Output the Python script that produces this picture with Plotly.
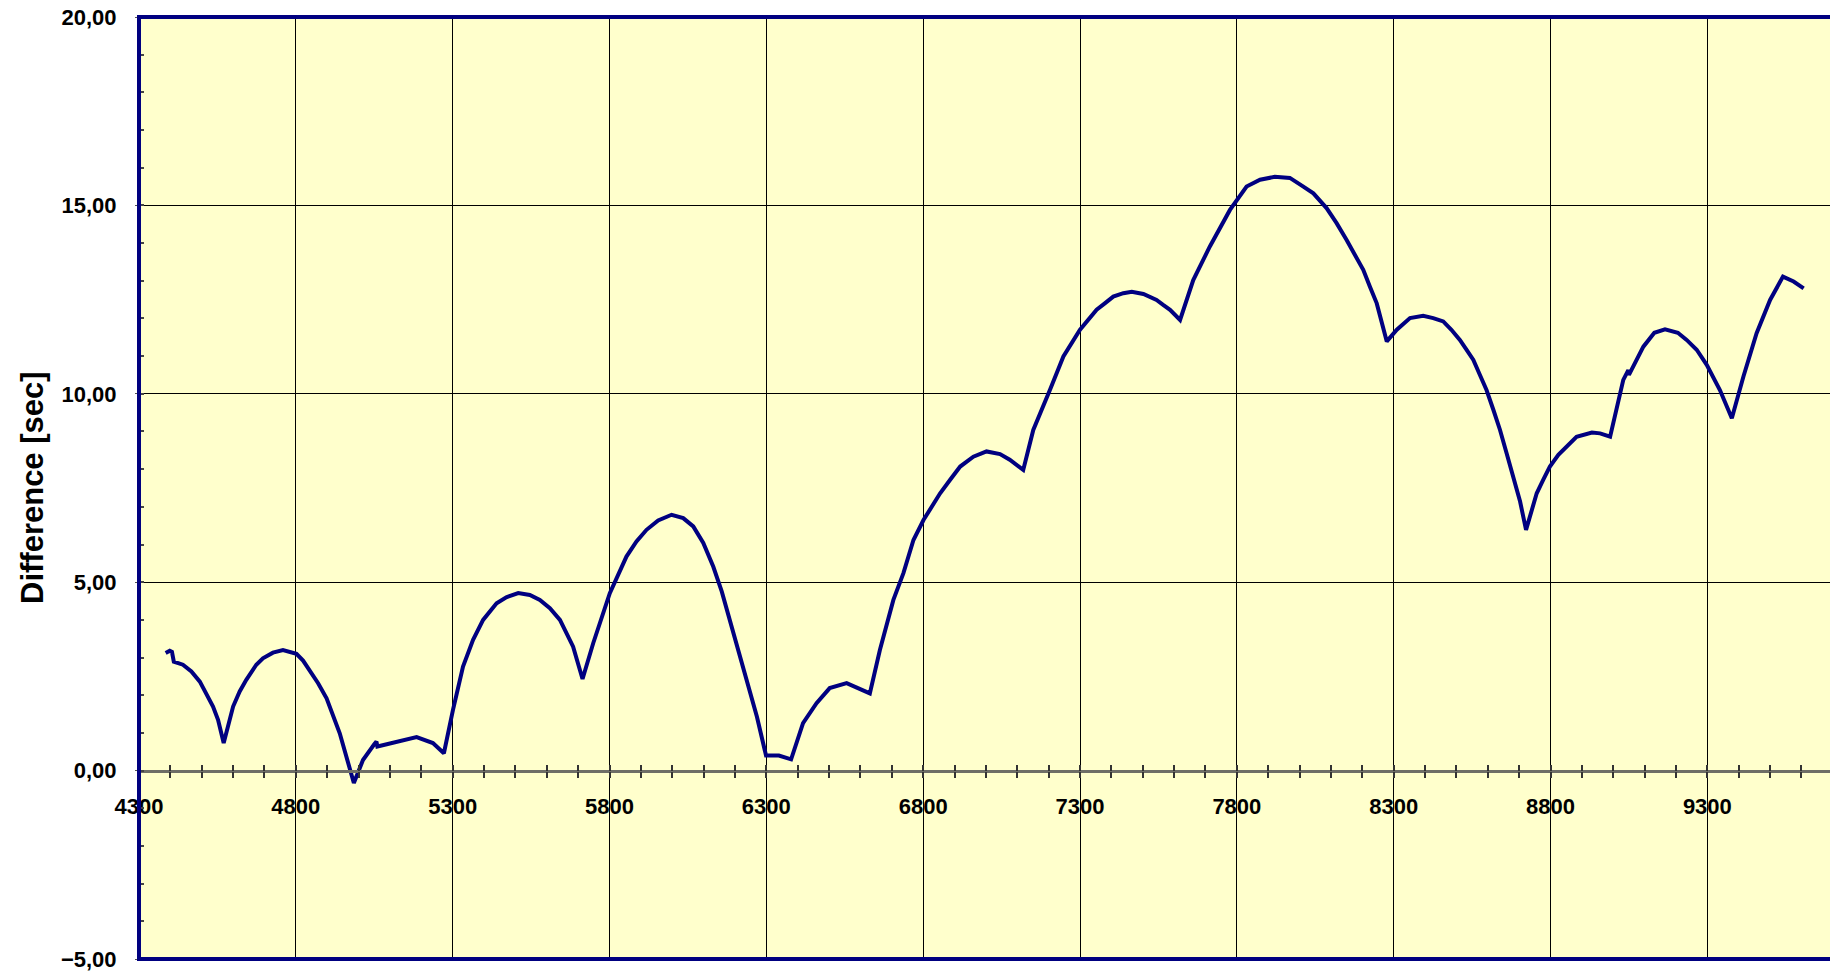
import plotly.graph_objects as go

# Data
x_values = [4385, 4398, 4405, 4411, 4440, 4467, 4494, 4515, 4536, 4552, 4570, 4600, 4621,
            4642, 4674, 4695, 4727, 4759, 4780, 4802, 4823, 4844, 4871, 4898, 4919, 4940,
            4985, 5014, 5050, 5057, 5060, 5131, 5185, 5237, 5272, 5301, 5333, 5365, 5397,
            5440, 5471, 5509, 5546, 5578, 5610, 5642, 5684, 5714, 5748, 5801, 5854, 5886,
            5918, 5955, 5998, 6035, 6067, 6099, 6131, 6158, 6184, 6211, 6237, 6270, 6299,
            6340, 6379, 6417, 6460, 6502, 6556, 6630, 6662, 6705, 6737, 6769, 6801, 6854,
            6886, 6918, 6960, 7002, 7045, 7076, 7119, 7151, 7204, 7247, 7300, 7326, 7353,
            7379, 7406, 7438, 7465, 7502, 7544, 7565, 7587, 7619, 7661, 7714, 7735, 7778,
            7831, 7874, 7921, 7969, 8012, 8044, 8086, 8118, 8150, 8177, 8203, 8224, 8246,
            8278, 8310, 8352, 8394, 8426, 8458, 8484, 8511, 8532, 8554, 8575, 8596, 8618,
            8639, 8660, 8681, 8703, 8722, 8756, 8777, 8798, 8825, 8852, 8883, 8932, 8958,
            8990, 9011, 9032, 9048, 9050, 9096, 9131, 9165, 9206, 9234, 9266, 9298, 9340,
            9378, 9415, 9457, 9500, 9541, 9575, 9607]
y_values = [3.12, 3.18, 3.15, 2.89, 2.81, 2.63, 2.36, 2.05, 1.70, 1.35, 0.73, 1.70, 2.10,
            2.41, 2.81, 2.98, 3.13, 3.20, 3.16, 3.10, 2.92, 2.67, 2.32, 1.92, 1.48, 0.99,
            -0.33, 0.28, 0.70, 0.77, 0.64, 0.77, 0.89, 0.73, 0.46, 1.61, 2.76, 3.47, 4.00,
            4.44, 4.60, 4.71, 4.66, 4.53, 4.31, 4.00, 3.29, 2.43, 3.38, 4.71, 5.68, 6.08,
            6.39, 6.64, 6.79, 6.70, 6.48, 6.04, 5.41, 4.75, 4.00, 3.20, 2.41, 1.43, 0.40,
            0.40, 0.30, 1.26, 1.79, 2.19, 2.32, 2.05, 3.20, 4.53, 5.24, 6.12, 6.65, 7.36,
            7.72, 8.07, 8.33, 8.47, 8.40, 8.25, 7.98, 9.04, 10.10, 10.99, 11.70, 11.96, 12.23,
            12.40, 12.58, 12.67, 12.71, 12.65, 12.49, 12.36, 12.23, 11.96, 13.02, 13.91, 14.22, 14.88,
            15.50, 15.68, 15.76, 15.73, 15.50, 15.32, 14.93, 14.53, 14.08, 13.69, 13.29, 12.85, 12.40,
            11.39, 11.70, 12.01, 12.07, 12.01, 11.92, 11.70, 11.43, 11.17, 10.90, 10.50, 10.10, 9.57,
            9.04, 8.42, 7.80, 7.14, 6.39, 7.36, 7.72, 8.07, 8.38, 8.60, 8.86, 8.97, 8.95,
            8.86, 9.66, 10.37, 10.63, 10.50, 11.25, 11.62, 11.71, 11.62, 11.43, 11.17, 10.77, 10.10,
            9.35, 10.46, 11.61, 12.49, 13.11, 12.98, 12.80]

y_title = "Difference [sec]"
x_range = [4300, 9691]
y_range = [-5, 20]

NAVY = "#000080"
FONT = "Liberation Sans, Arial, sans-serif"

fig = go.Figure()
fig.add_trace(go.Scatter(x=x_values, y=y_values, mode="lines",
                         line=dict(color=NAVY, width=4), showlegend=False,
                         hoverinfo="skip"))
# helper (empty) trace so the second x axis (inside crossing ticks) is drawn
fig.add_trace(go.Scatter(x=[], y=[], xaxis="x2", yaxis="y", showlegend=False))

zero_pos = (0 - y_range[0]) / (y_range[1] - y_range[0])

fig.update_layout(
    width=1830, height=971,
    margin=dict(l=139, r=0, t=17, b=12, autoexpand=False),
    paper_bgcolor="white",
    plot_bgcolor="#FFFFCC",
    separators=",.",
    font=dict(family=FONT, size=22, color="black"),
    xaxis=dict(
        range=x_range, dtick=500, tick0=4300, tickformat="d",
        anchor="free", position=zero_pos, automargin=False,
        showgrid=True, gridcolor="black", gridwidth=1,
        showline=True, linecolor="#6e6e66", linewidth=2.5,
        zeroline=False,
        ticks="outside", ticklen=6, tickcolor="#333333", tickwidth=1.5,
        ticklabelstandoff=9,
        minor=dict(dtick=100, ticks="outside", ticklen=6, tickcolor="#333333",
                   tickwidth=1.5, showgrid=False),
        tickfont=dict(family=FONT, size=22, color="black", weight="bold"),
    ),
    xaxis2=dict(
        matches="x", overlaying="x", anchor="free", position=zero_pos, automargin=False,
        showgrid=False, showline=False, zeroline=False, showticklabels=False,
        ticks="inside", ticklen=6, tickcolor="#333333", tickwidth=1.5,
        dtick=500, tick0=4300,
        minor=dict(dtick=100, ticks="inside", ticklen=6, tickcolor="#333333",
                   tickwidth=1.5, showgrid=False),
    ),
    yaxis=dict(
        range=y_range, dtick=5, tickformat=".2f", automargin=False,
        showgrid=True, gridcolor="black", gridwidth=1,
        zeroline=False, showline=False,
        ticks="outside", ticklen=3, tickcolor="#555555",
        ticklabelstandoff=14, ticklabeloverflow="allow",
        minor=dict(dtick=1, ticks="inside", ticklen=5, tickcolor="#444444",
                   tickwidth=1.5, showgrid=False),
        tickfont=dict(family=FONT, size=22, color="black", weight="bold"),
    ),
    shapes=[dict(type="rect", xref="paper", yref="paper", x0=0, x1=1.2, y0=0, y1=1,
                 line=dict(color=NAVY, width=4), layer="above")],
    annotations=[dict(text=y_title, xref="paper", yref="paper", x=0, y=0.5,
                      xanchor="center", yanchor="middle", xshift=-107, textangle=-90,
                      showarrow=False,
                      font=dict(family=FONT, size=31, color="black", weight="bold"))],
)

# remove the browser's default page margin so the figure fills the window exactly
fig.write_html("out.html", config={"displayModeBar": False},
               post_script="document.body.style.margin='0';document.body.style.overflow='hidden';")
